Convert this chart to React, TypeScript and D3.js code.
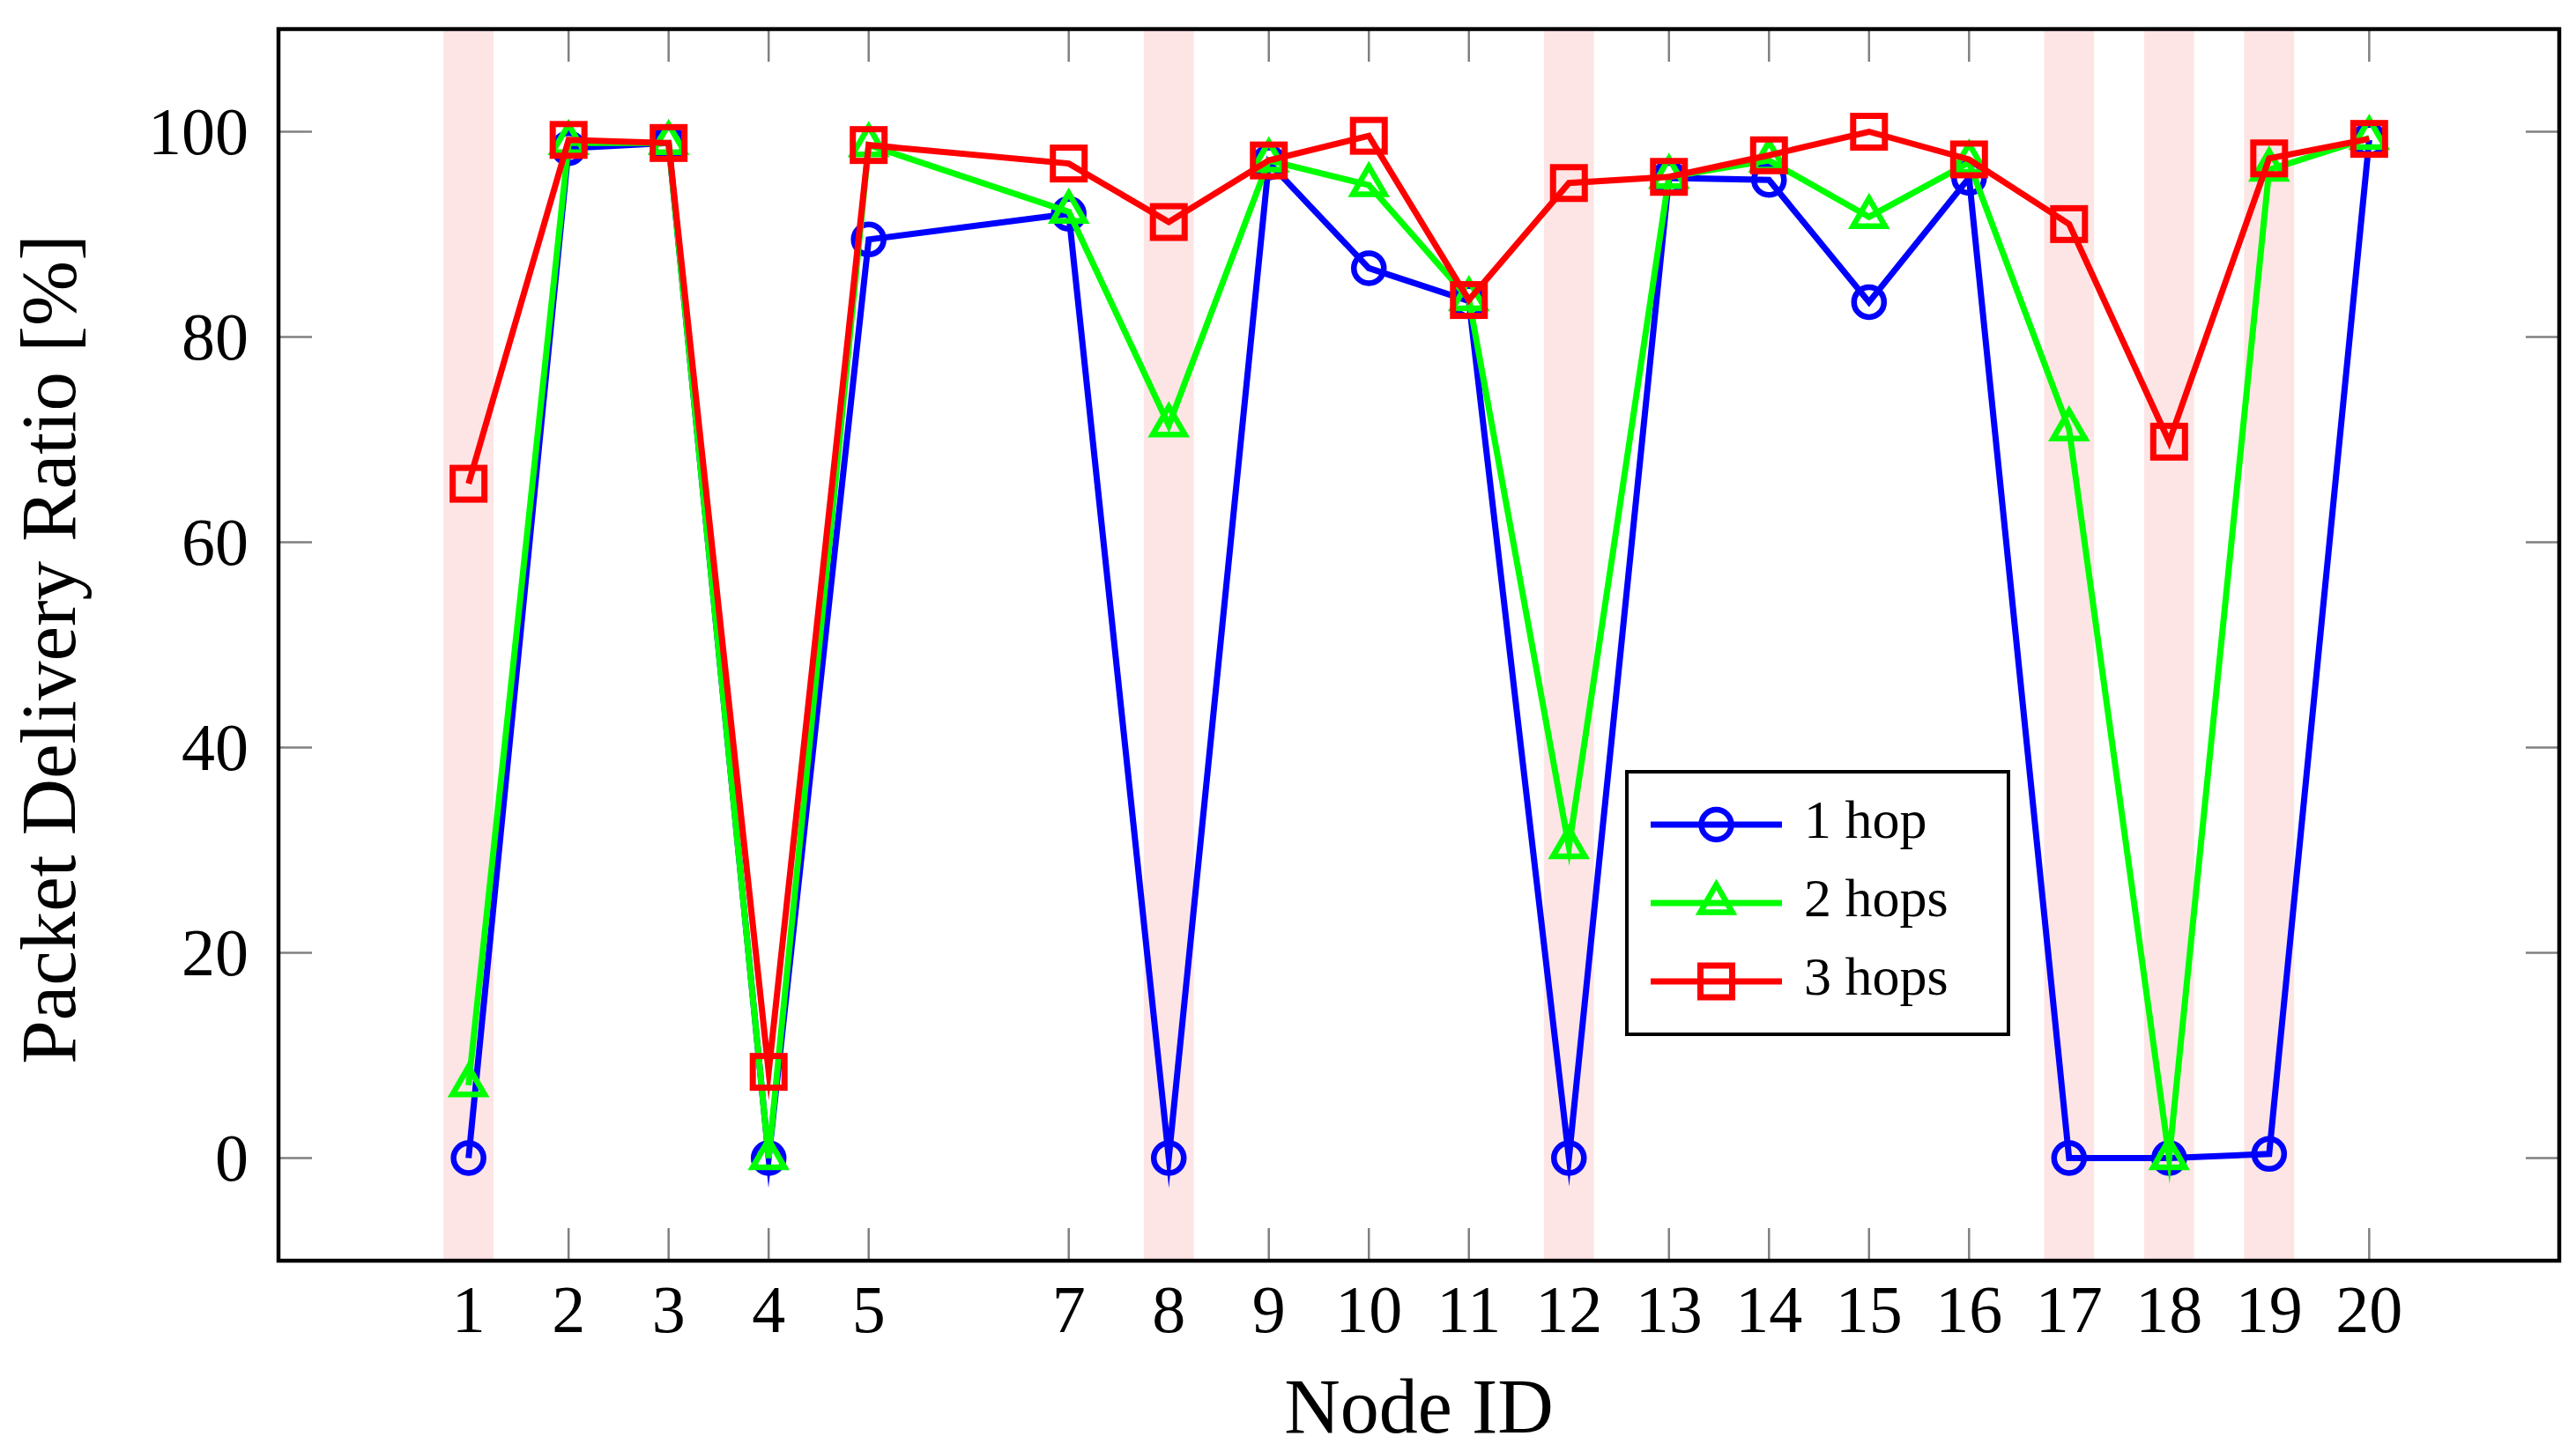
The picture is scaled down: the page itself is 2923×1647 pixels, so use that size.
import { line, scaleLinear } from "d3";

const W = 2923;
const H = 1647;
const M = { top: 33, right: 19, bottom: 216, left: 316 };

// node IDs (node 6 has no data)
const nodeIds = [1, 2, 3, 4, 5, 7, 8, 9, 10, 11, 12, 13, 14, 15, 16, 17, 18, 19, 20];
const oneHop = [0, 98.4, 98.9, 0, 89.5, 92.0, 0, 97.0, 86.7, 83.5, 0, 95.5, 95.3, 83.4, 95.5, 0, 0, 0.4, 99.2];
const twoHops = [7.1, 98.9, 98.9, 0, 98.7, 92.2, 71.4, 97.2, 94.8, 83.7, 30.3, 95.6, 97.2, 91.7, 97.0, 71.0, 0, 96.3, 99.4];
const threeHops = [65.7, 99.2, 98.9, 8.4, 98.7, 96.9, 91.2, 97.2, 99.6, 83.6, 95.0, 95.6, 97.7, 100, 97.3, 91.0, 69.8, 97.4, 99.3];
const highlighted = [1, 8, 12, 17, 18, 19];
const yTicks = [0, 20, 40, 60, 80, 100];

const FONT = "'Liberation Serif', 'Times New Roman', serif";

type Marker = "circle" | "triangle" | "square";

const series: { name: string; values: number[]; color: string; marker: Marker }[] = [
  { name: "1 hop", values: oneHop, color: "#0000ff", marker: "circle" },
  { name: "2 hops", values: twoHops, color: "#00ff00", marker: "triangle" },
  { name: "3 hops", values: threeHops, color: "#ff0000", marker: "square" },
];

function MarkerShape({ kind, x, y, color }: { kind: Marker; x: number; y: number; color: string }) {
  if (kind === "circle") {
    return <circle cx={x} cy={y} r={17} fill="none" stroke={color} strokeWidth={6.5} />;
  }
  if (kind === "square") {
    return <rect x={x - 18} y={y - 18} width={36} height={36} fill="none" stroke={color} strokeWidth={7} />;
  }
  const r = 21;
  const pts = [
    [x, y - r],
    [x + r * 0.866, y + r / 2],
    [x - r * 0.866, y + r / 2],
  ]
    .map((p) => p.join(","))
    .join(" ");
  return <polygon points={pts} fill="none" stroke={color} strokeWidth={6.5} strokeLinejoin="miter" />;
}

export default function App() {
  const x = scaleLinear().domain([-0.9, 21.9]).range([M.left, W - M.right]);
  const y = scaleLinear().domain([-10, 110]).range([H - M.bottom, M.top]);
  const x0 = M.left;
  const x1 = W - M.right;
  const y0 = H - M.bottom;
  const y1 = M.top;
  const bandW = x(0.25) - x(0);

  const mk = (vals: number[]) =>
    line<number>()
      .x((_, i) => x(nodeIds[i]))
      .y((v) => y(v))(vals) ?? "";

  const legend = { x: 1846, y: 876, w: 433, h: 298, rows: [936, 1025, 1114] };

  return (
    <svg
      width={W}
      height={H}
      viewBox={`0 0 ${W} ${H}`}
      style={{ position: "absolute", left: 0, top: 0, background: "#fff" }}
      fontFamily={FONT}
    >
      <rect x={0} y={0} width={W} height={H} fill="#fff" />

      {/* tick marks, inside on all four sides */}
      {nodeIds.map((t) => (
        <g key={`xt${t}`} stroke="#808080" strokeWidth={2.5}>
          <line x1={x(t)} x2={x(t)} y1={y0} y2={y0 - 37} />
          <line x1={x(t)} x2={x(t)} y1={y1} y2={y1 + 37} />
        </g>
      ))}
      {yTicks.map((t) => (
        <g key={`yt${t}`} stroke="#808080" strokeWidth={2.5}>
          <line x1={x0} x2={x0 + 38} y1={y(t)} y2={y(t)} />
          <line x1={x1} x2={x1 - 38} y1={y(t)} y2={y(t)} />
        </g>
      ))}

      {/* highlighted nodes */}
      {highlighted.map((n) => (
        <rect key={`b${n}`} x={x(n) - bandW} y={y1} width={bandW * 2} height={y0 - y1} fill="#fde5e5" />
      ))}

      {series.map((s) => (
        <g key={s.name}>
          <path
            d={mk(s.values)}
            fill="none"
            stroke={s.color}
            strokeWidth={7}
            strokeLinejoin="miter"
            strokeMiterlimit={10}
          />
          {s.values.map((v, i) => (
            <MarkerShape key={i} kind={s.marker} x={x(nodeIds[i])} y={y(v)} color={s.color} />
          ))}
        </g>
      ))}

      <rect x={x0} y={y1} width={x1 - x0} height={y0 - y1} fill="none" stroke="#000" strokeWidth={4.5} />

      {nodeIds.map((t) => (
        <text key={`xl${t}`} x={x(t)} y={1512} textAnchor="middle" fontSize={76} fill="#000">
          {t}
        </text>
      ))}
      {yTicks.map((t) => (
        <text key={`yl${t}`} x={282} y={y(t)} dy="0.34em" textAnchor="end" fontSize={76} fill="#000">
          {t}
        </text>
      ))}

      <text x={(x0 + x1) / 2} y={1626} textAnchor="middle" fontSize={88} fill="#000">
        Node ID
      </text>
      <text
        transform={`translate(85, ${(y0 + y1) / 2 + 5}) rotate(-90)`}
        textAnchor="middle"
        fontSize={89}
        fill="#000"
      >
        Packet Delivery Ratio [%]
      </text>

      <g>
        <rect x={legend.x} y={legend.y} width={legend.w} height={legend.h} fill="#fff" stroke="#000" strokeWidth={4} />
        {series.map((s, i) => (
          <g key={`lg${s.name}`}>
            <line x1={1873} x2={2022} y1={legend.rows[i]} y2={legend.rows[i]} stroke={s.color} strokeWidth={7} />
            <MarkerShape kind={s.marker} x={1947.5} y={legend.rows[i]} color={s.color} />
            <text x={2047} y={legend.rows[i] + 15} fontSize={62} fill="#000">
              {s.name}
            </text>
          </g>
        ))}
      </g>
    </svg>
  );
}
